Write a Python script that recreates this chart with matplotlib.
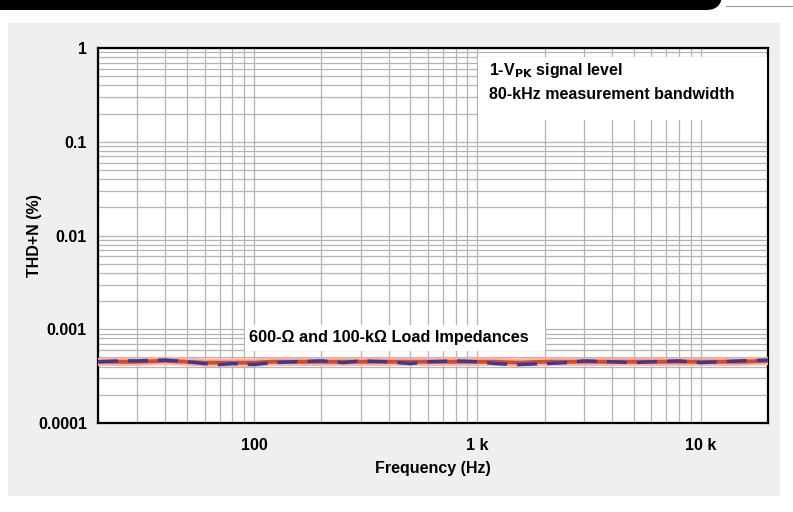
#
# THD+N vs frequency, 600-ohm and 100-kohm loads, redrawn from a datasheet plot.
#

import matplotlib.pyplot as plt
import matplotlib.ticker
from matplotlib.patches import FancyBboxPatch, Rectangle
from matplotlib.lines import Line2D

freq_hz = [20, 25, 30, 40, 50, 60, 70, 80, 100, 120, 150, 200, 250, 300,
           400, 500, 600, 800, 1000, 1200, 1500, 2000, 2500, 3000, 4000,
           5000, 6000, 8000, 10000, 12000, 15000, 20000]
thdn_600 = [0.00045, 0.00045, 0.00045, 0.00046, 0.00045, 0.00044, 0.00044,
            0.00044, 0.00044, 0.00045, 0.00045, 0.00045, 0.00045, 0.00045,
            0.00045, 0.00045, 0.00045, 0.00045, 0.00045, 0.00045, 0.00044,
            0.00045, 0.00045, 0.00045, 0.00045, 0.00045, 0.00045, 0.00045,
            0.00045, 0.00045, 0.00045, 0.00046]
thdn_100k = [0.00045, 0.00046, 0.00046, 0.00047, 0.00045, 0.00043, 0.00042,
             0.00043, 0.00042, 0.00044, 0.00045, 0.00046, 0.00044, 0.00046,
             0.00045, 0.00043, 0.00045, 0.00046, 0.00045, 0.00043, 0.00042,
             0.00043, 0.00044, 0.00046, 0.00045, 0.00044, 0.00045, 0.00046,
             0.00044, 0.00045, 0.00046, 0.00047]

y_ticks = [0.0001, 0.001, 0.01, 0.1, 1]
y_tick_labels = ['0.0001', '0.001', '0.01', '0.1', '1']
x_ticks = [100, 1000, 10000]
x_tick_labels = ['100', '1 k', '10 k']

PANEL = '#efefef'
GRID = '#b4b4b4'


def main():
    plt.rcParams['font.family'] = ['Liberation Sans', 'DejaVu Sans']
    fig = plt.figure(figsize=(7.93, 5.12), dpi=100)
    fig.patch.set_facecolor('white')

    W, H = 793.0, 512.0
    # grey panel behind the plot
    fig.patches.append(Rectangle((8 / W, 16 / H), 772 / W, 473 / H,
                                 transform=fig.transFigure,
                                 facecolor=PANEL, edgecolor='none',
                                 zorder=-5))
    # black header bar with rounded lower corners
    fig.patches.append(FancyBboxPatch((-20 / W, 502 / H), 742 / W, 40 / H,
                                      boxstyle='round,pad=0,rounding_size=0.02',
                                      transform=fig.transFigure,
                                      facecolor='black', edgecolor='none',
                                      mutation_aspect=W / H, zorder=-4))
    fig.lines.append(Line2D([726 / W, 1.0], [506 / H, 506 / H],
                            transform=fig.transFigure,
                            color='#9a9a9a', linewidth=0.8))

    ax = fig.add_axes([98 / W, 89 / H, 670 / W, 375 / H])
    ax.set_facecolor('white')
    ax.set_xscale('log')
    ax.set_yscale('log')
    ax.set_xlim(20, 20000)
    ax.set_ylim(0.0001, 1)

    ax.grid(True, which='both', color=GRID, linewidth=0.9)
    ax.set_axisbelow(True)

    ax.plot(freq_hz, thdn_600, color='#f4b6a6', linewidth=6.0,
            solid_capstyle='butt', zorder=3)
    ax.plot(freq_hz, thdn_600, color='#d8492a', linewidth=2.8, zorder=4)
    ax.plot(freq_hz, thdn_100k, color='#3b3795', linewidth=2.4,
            linestyle=(0, (6, 3)), zorder=5)

    ax.yaxis.set_major_locator(matplotlib.ticker.FixedLocator(y_ticks))
    ax.yaxis.set_major_formatter(matplotlib.ticker.FixedFormatter(y_tick_labels))
    ax.xaxis.set_major_locator(matplotlib.ticker.FixedLocator(x_ticks))
    ax.xaxis.set_major_formatter(matplotlib.ticker.FixedFormatter(x_tick_labels))
    ax.tick_params(which='both', length=0)
    ax.tick_params(axis='y', pad=8)
    ax.tick_params(axis='x', pad=11)
    for lab in ax.get_xticklabels() + ax.get_yticklabels():
        lab.set_fontweight('bold')
        lab.set_fontsize(11.5)

    for side in ax.spines.values():
        side.set_linewidth(1.6)
        side.set_color('black')

    ax.set_xlabel('Frequency (Hz)', fontsize=11.5, fontweight='bold')
    ax.xaxis.set_label_coords(0.5, -0.102)
    ax.set_ylabel('THD+N (%)', fontsize=11.5, fontweight='bold')
    ax.yaxis.set_label_coords(-0.083, 0.5)

    # condition box, top right
    ax.add_patch(Rectangle((0.567, 0.808), 0.431, 0.168,
                           transform=ax.transAxes, facecolor='white',
                           edgecolor='none', zorder=6))
    ax.text(0.583, 0.941, r'1-V$_{\mathbf{PK}}$ signal level',
            transform=ax.transAxes, fontsize=11.5, fontweight='bold',
            va='center', zorder=7)
    ax.text(0.583, 0.875, '80-kHz measurement bandwidth',
            transform=ax.transAxes, fontsize=11.5, fontweight='bold',
            va='center', zorder=7)

    # curve label
    ax.add_patch(Rectangle((0.219, 0.192), 0.448, 0.07,
                           transform=ax.transAxes, facecolor='white',
                           edgecolor='none', zorder=6))
    ax.text(0.225, 0.227, '600-\u03a9 and 100-k\u03a9 Load Impedances',
            transform=ax.transAxes, fontsize=11.7, fontweight='bold',
            va='center', zorder=7)

    fig.savefig('out.png', dpi=100, facecolor=fig.get_facecolor())


if __name__ == '__main__':
    main()
